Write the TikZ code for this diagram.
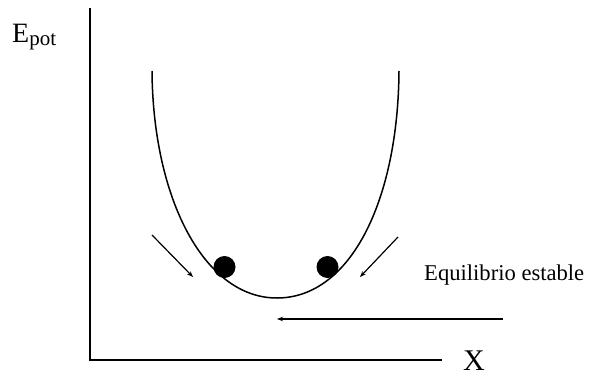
\documentclass[tikz,border=0pt]{standalone}
\usepackage{fontspec}
\setmainfont{Liberation Serif}
\usepackage{tikz}
\usetikzlibrary{arrows.meta,positioning}

\begin{document}
\begin{tikzpicture}[
  x=1pt, y=-1pt,
  axis/.style={line width=2pt},
  ball/.style={circle, fill=black, minimum size=22pt, inner sep=0pt},
  push/.style={-{Stealth[length=6pt,width=4.5pt]}, line width=1.2pt},
  lbl/.style={anchor=base west, inner sep=0pt}]
\useasboundingbox (0,0) rectangle (594,377);
% axes
\coordinate (top) at (90,8);
\coordinate (orig) at (90,360);
\coordinate (xend) at (442,360);
\draw[axis] (top) -- (orig) -- (xend);
\node[lbl, font=\fontsize{28}{28}\selectfont] (epot) at (12,43)
  {E\raisebox{-3pt}{\fontsize{21}{21}\selectfont pot}};
\node[lbl, font=\fontsize{30}{30}\selectfont] (xlbl) at (463,370) {X};
% potential well
\draw[line width=1.5pt] (152,71) .. controls (153,200) and (205,299) .. (278,298)
  .. controls (351,297) and (398,200) .. (399,71);
\node[ball] (lball) at (224.5,267) {};
\node[ball] (rball) at (327.5,267) {};
% arrows
\coordinate (la) at (152,235);
\coordinate (lb) at (193,277);
\coordinate (ra) at (398,237);
\coordinate (rb) at (360,277);
\draw[push] (la) -- (lb);
\draw[push] (ra) -- (rb);
\node[lbl, font=\fontsize{22.6}{22.6}\selectfont] (eq) at (424,280) {Equilibrio estable};
\coordinate (ha) at (503,319);
\coordinate (hb) at (277,319);
\draw[push] (ha) -- (hb);
\end{tikzpicture}
\end{document}
